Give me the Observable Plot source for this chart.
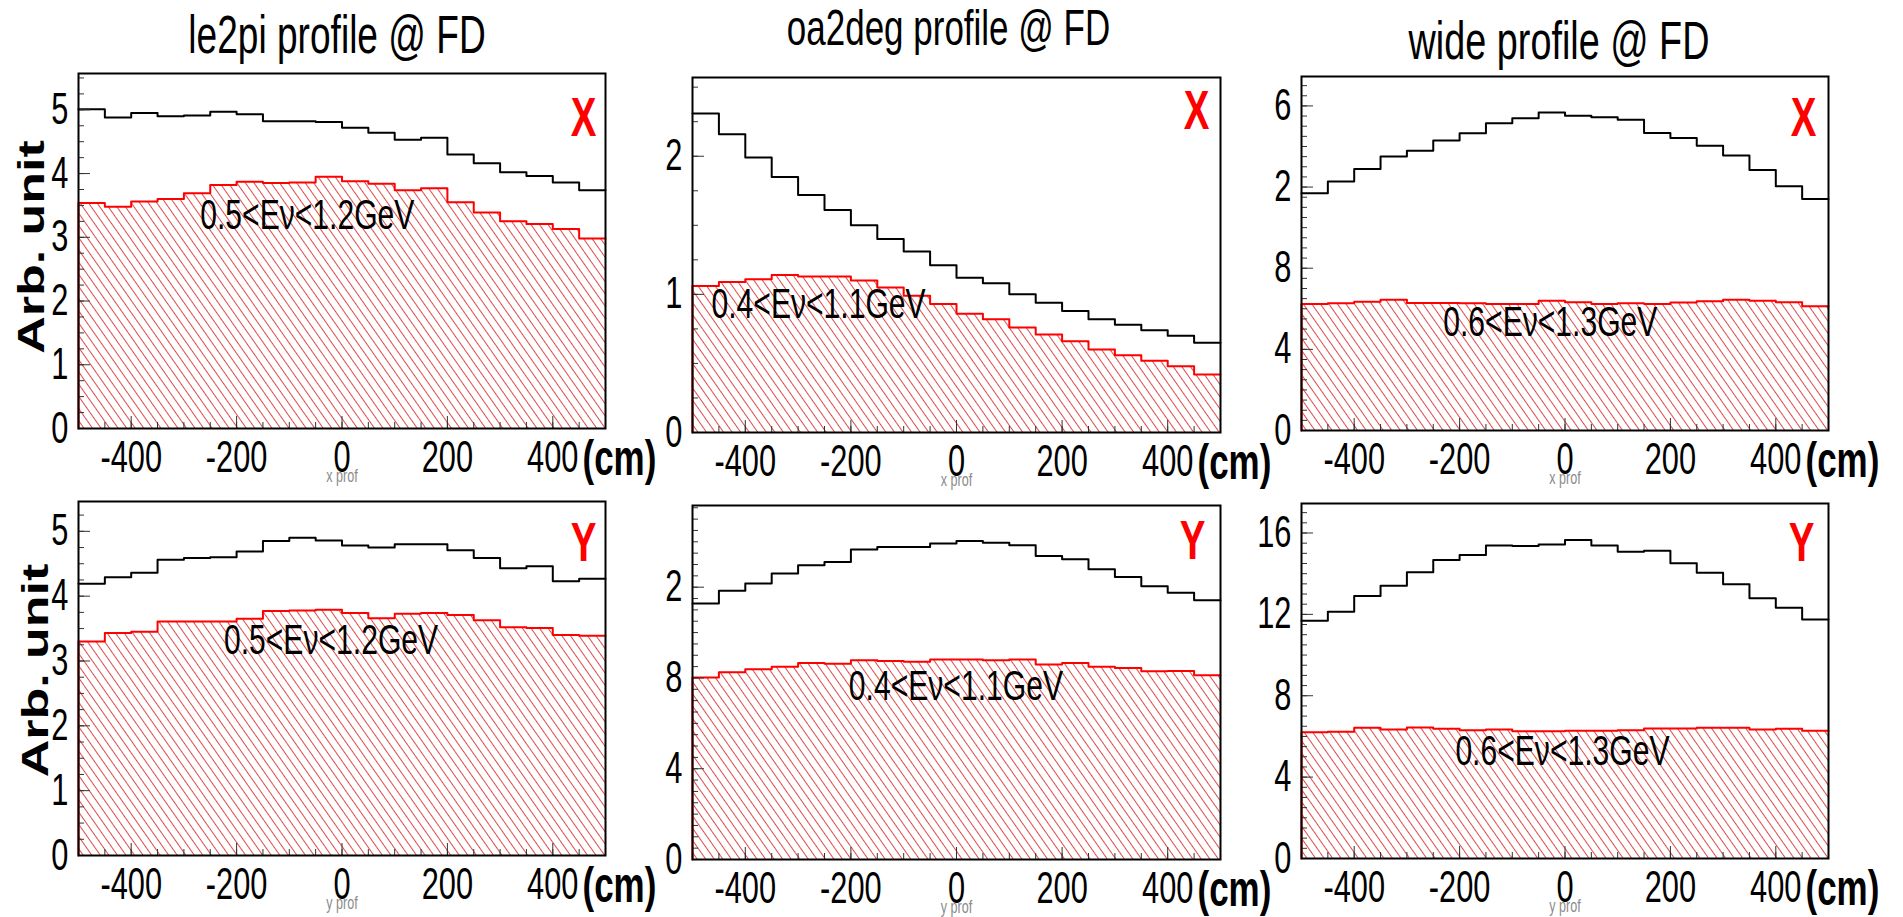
<!DOCTYPE html>
<html>
<head>
<meta charset="utf-8">
<script src="https://cdn.jsdelivr.net/npm/d3@7"></script>
<script src="https://cdn.jsdelivr.net/npm/@observablehq/plot@0.6"></script>
<style>
html, body { margin: 0; padding: 0; background: #ffffff; }
#chart { position: relative; width: 1903px; height: 917px; overflow: hidden; background: #ffffff; }
#chart svg { position: absolute; }
</style>
</head>
<body>
<div id="chart"></div>
<script>
// ---------- data ----------
const binEdges = [-500,-450,-400,-350,-300,-250,-200,-150,-100,-50,0,50,100,150,200,250,300,350,400,450,500];
const xTicks = [-400,-200,0,200,400];
const xTickLabels = ["-400","-200","0","200","400"];
const xMinorTicks = [-450,-400,-350,-300,-250,-200,-150,-100,-50,0,50,100,150,200,250,300,350,400,450];

const titles = ["le2pi profile @ FD", "oa2deg profile @ FD", "wide profile @ FD"];
const energyLabels = ["0.5<Eν<1.2GeV", "0.4<Eν<1.1GeV", "0.6<Eν<1.3GeV"];
const axisTags = ["X", "Y"];
const profLabels = ["x prof", "y prof"];
const yTitle = "Arb. unit";
const unitLabel = "(cm)";

// all-energy flux profile (black) and selected-energy profile (red), 20 bins of 50 cm
const le2piX_all  = [5.01,4.88,4.95,4.90,4.91,4.97,4.93,4.82,4.82,4.81,4.72,4.64,4.53,4.56,4.30,4.16,4.02,3.96,3.86,3.74];
const le2piX_sel  = [3.54,3.48,3.56,3.60,3.69,3.82,3.87,3.85,3.86,3.95,3.88,3.84,3.74,3.77,3.55,3.39,3.25,3.21,3.13,2.98];
const oa2degX_all = [2.31,2.16,1.99,1.85,1.72,1.61,1.50,1.40,1.31,1.21,1.12,1.08,1.00,0.94,0.88,0.82,0.78,0.74,0.70,0.65];
const oa2degX_sel = [1.06,1.09,1.11,1.14,1.13,1.13,1.10,1.05,0.99,0.93,0.86,0.82,0.76,0.71,0.66,0.60,0.56,0.52,0.48,0.42];
const wideX_all   = [11.69,12.27,12.89,13.51,13.79,14.29,14.65,15.14,15.39,15.68,15.52,15.44,15.32,14.66,14.42,14.04,13.55,12.84,12.04,11.41];
const wideX_sel   = [6.24,6.27,6.35,6.44,6.29,6.29,6.27,6.24,6.24,6.40,6.32,6.24,6.27,6.24,6.31,6.37,6.45,6.39,6.32,6.12];
const le2piY_all  = [4.19,4.29,4.36,4.56,4.59,4.60,4.69,4.85,4.90,4.86,4.78,4.75,4.80,4.80,4.71,4.59,4.43,4.46,4.23,4.27];
const le2piY_sel  = [3.30,3.43,3.45,3.61,3.61,3.61,3.65,3.77,3.78,3.79,3.74,3.66,3.73,3.74,3.71,3.63,3.52,3.51,3.40,3.39];
const oa2degY_all = [11.28,11.84,12.16,12.60,12.97,13.11,13.66,13.77,13.77,13.92,14.04,13.96,13.85,13.38,13.23,12.79,12.45,12.04,11.76,11.42];
const oa2degY_sel = [8.02,8.25,8.38,8.49,8.66,8.63,8.78,8.75,8.71,8.81,8.81,8.78,8.81,8.59,8.66,8.49,8.44,8.30,8.31,8.12];
const wideY_all   = [11.69,12.13,12.90,13.41,14.07,14.67,14.92,15.38,15.36,15.44,15.66,15.38,15.08,15.13,14.51,14.05,13.48,12.79,12.33,11.75];
const wideY_sel   = [6.20,6.23,6.43,6.34,6.44,6.38,6.31,6.34,6.26,6.26,6.28,6.28,6.31,6.39,6.39,6.43,6.43,6.34,6.38,6.28];

// y axes: domain top, labelled ticks, their (partly clipped) labels, minor step
const yMaxes      = [5.57, 2.57, 17.45, 5.46, 15.6, 17.45];
const yTicksSmall = [0,1,2,3,4,5];
const yLabelsSmall = ["0","1","2","3","4","5"];
const yTicksOa    = [0,1,2];
const yLabelsOa   = ["0","1","2"];
const yTicksBig   = [0,4,8,12,16];
const yLabelsWideX = ["0","4","8","2","6"];
const yLabelsOaY   = ["0","4","8","2",""];
const yLabelsWideY = ["0","4","8","12","16"];

// energy annotation anchor (left, baseline) in data units
const energyPosX = [-269, -464, -231, -224, -204, -208];
const energyPosY = [3.13, 0.826, 4.68, 3.11, 7.02, 4.59];

// ---------- layout (page pixels) ----------
const layout = [
  {L: 78,  T: 73,  W: 527, H: 355, titleDx: -5, titleDy: -21, tagDx: -9,  tagDy: 62, ytDx: -46, ytDy: -4},
  {L: 692, T: 77,  W: 528, H: 355, titleDx: -8, titleDy: -33, tagDx: -11, tagDy: 51},
  {L: 1301,T: 76,  W: 527, H: 354, titleDx: -6, titleDy: -18, tagDx: -12, tagDy: 59},
  {L: 78,  T: 501, W: 527, H: 354, tagDx: -9,  tagDy: 59, ytDx: -42, ytDy: -8},
  {L: 692, T: 505, W: 528, H: 354, tagDx: -15, tagDy: 53},
  {L: 1301,T: 503, W: 527, H: 355, tagDx: -14, tagDy: 57}
];
const titleSizes = [53, 50, 54];

const panels = [
  {all: le2piX_all,  sel: le2piX_sel,  yt: yTicksSmall, yl: yLabelsSmall, minor: 0.25},
  {all: oa2degX_all, sel: oa2degX_sel, yt: yTicksOa,    yl: yLabelsOa,    minor: 0.25},
  {all: wideX_all,   sel: wideX_sel,   yt: yTicksBig,   yl: yLabelsWideX, minor: 0.5},
  {all: le2piY_all,  sel: le2piY_sel,  yt: yTicksSmall, yl: yLabelsSmall, minor: 0.25},
  {all: oa2degY_all, sel: oa2degY_sel, yt: yTicksBig.slice(0,4), yl: yLabelsOaY, minor: 0.5},
  {all: wideY_all,   sel: wideY_sel,   yt: yTicksBig,   yl: yLabelsWideY, minor: 0.5}
];

const FONT = "'Liberation Sans', Arial, Helvetica, sans-serif";
const SX = 0.7; // horizontal compression of the original's lettering
const ML = 76, MR = 84, MT = 73, MB = 62;

function steps(vals) {
  const pts = vals.map((v, i) => ({x: binEdges[i], y: v}));
  pts.push({x: binEdges[binEdges.length - 1], y: vals[vals.length - 1]});
  return pts;
}

const chart = document.getElementById("chart");

panels.forEach((p, k) => {
  const lay = layout[k];
  const col = k % 3, row = Math.floor(k / 3);
  const ymax = yMaxes[k];
  const yMinor = d3.range(0, ymax, p.minor);
  const blackPts = steps(p.all);
  const redPts = steps(p.sel);
  const redOutline = [{x: binEdges[0], y: 0}, ...redPts];
  const hatchId = "hatch" + k;

  const marks = [
    Plot.areaY(redPts, {x: "x", y: "y", curve: "step-after", fill: `url(#${hatchId})`}),
    Plot.line(redOutline, {x: "x", y: "y", curve: "step-after", stroke: "#ff0000", strokeWidth: 2}),
    Plot.line(blackPts, {x: "x", y: "y", curve: "step-after", stroke: "#000000", strokeWidth: 2}),
    // inward ticks (ROOT style)
    Plot.tickX(xMinorTicks, {x: d => d, stroke: "#333", strokeWidth: 1, insetTop: lay.H - 6}),
    Plot.tickX(xTicks, {x: d => d, stroke: "#333", strokeWidth: 1, insetTop: lay.H - 12}),
    Plot.tickY(yMinor, {y: d => d, stroke: "#333", strokeWidth: 1, insetRight: lay.W - 6}),
    Plot.tickY(p.yt, {y: d => d, stroke: "#333", strokeWidth: 1, insetRight: lay.W - 12}),
    Plot.axisX(xTicks, {tickSize: 0, tickPadding: 12, fontSize: 44, label: null,
      tickFormat: d => xTickLabels[xTicks.indexOf(d)]}),
    Plot.axisY(p.yt, {tickSize: 0, tickPadding: 10, fontSize: 44, label: null,
      tickFormat: d => p.yl[p.yt.indexOf(d)]}),
    Plot.text([energyLabels[col]], {x: [energyPosX[k]], y: [energyPosY[k]], text: d => d,
      textAnchor: "start", lineAnchor: "bottom", fontSize: 43, fill: "#000"}),
    Plot.text([axisTags[row]], {frameAnchor: "top-right", dx: lay.tagDx, dy: lay.tagDy,
      textAnchor: "end", lineAnchor: "bottom", fontSize: 55, fontWeight: "bold", fill: "#ff0000"}),
    Plot.text([unitLabel], {frameAnchor: "bottom-right", dx: -23, dy: 46,
      textAnchor: "start", lineAnchor: "bottom", fontSize: 50, fontWeight: "bold", fill: "#000"}),
    Plot.text([profLabels[row]], {frameAnchor: "bottom", dy: 53,
      textAnchor: "middle", lineAnchor: "bottom", fontSize: 18, fill: "#8a8a8a"}),
    Plot.frame({stroke: "#000", strokeWidth: 2})
  ];
  if (row === 0) {
    marks.push(Plot.text([titles[col]], {frameAnchor: "top", dx: lay.titleDx, dy: lay.titleDy,
      textAnchor: "middle", lineAnchor: "bottom", fontSize: titleSizes[col], fill: "#000"}));
  }
  if (col === 0) {
    marks.push(Plot.text([yTitle], {frameAnchor: "left", dx: lay.ytDx, dy: lay.ytDy, rotate: -90,
      textAnchor: "middle", lineAnchor: "middle", fontSize: 52, fontWeight: "bold", fill: "#000"}));
  }

  const svg = Plot.plot({
    width: ML + lay.W + MR,
    height: MT + lay.H + MB,
    marginLeft: ML, marginRight: MR, marginTop: MT, marginBottom: MB,
    x: {domain: [-500, 500], label: null},
    y: {domain: [0, ymax], label: null},
    style: {fontFamily: FONT, background: "transparent", overflow: "visible", maxWidth: "none", color: "#000"},
    marks
  });

  // hatch pattern (ROOT fill style, diagonal "\" lines)
  const defs = d3.select(svg).insert("defs", ":first-child");
  const pat = defs.append("pattern")
    .attr("id", hatchId)
    .attr("patternUnits", "userSpaceOnUse")
    .attr("width", 7).attr("height", 7)
    .attr("patternTransform", "rotate(-35)");
  pat.append("line")
    .attr("x1", 3.5).attr("y1", -1).attr("x2", 3.5).attr("y2", 8)
    .attr("stroke", "#e04a4a").attr("stroke-width", 1);

  // condensed lettering, as in the original picture
  svg.querySelectorAll("text").forEach(t => {
    const tr = t.getAttribute("transform") || "";
    t.setAttribute("transform", tr + (tr.includes("rotate") ? ` scale(1,${SX})` : ` scale(${SX},1)`));
  });

  svg.style.left = (lay.L - ML) + "px";
  svg.style.top = (lay.T - MT) + "px";
  chart.appendChild(svg);
});
</script>
</body>
</html>
